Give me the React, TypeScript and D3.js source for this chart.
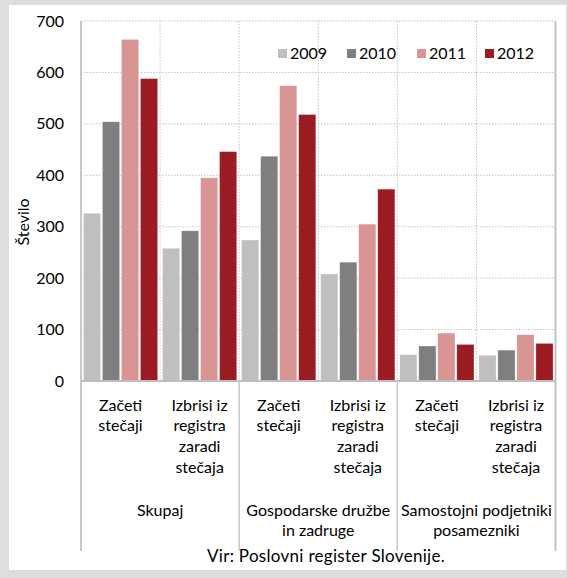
import React from 'react';
import * as d3 from 'd3';

// podatki
const years = ['2009', '2010', '2011', '2012'];
const subLabels = [
  ['Začeti', 'stečaji'],
  ['Izbrisi iz', 'registra', 'zaradi', 'stečaja'],
  ['Začeti', 'stečaji'],
  ['Izbrisi iz', 'registra', 'zaradi', 'stečaja'],
  ['Začeti', 'stečaji'],
  ['Izbrisi iz', 'registra', 'zaradi', 'stečaja'],
];
const groupLabels = [['Skupaj'], ['Gospodarske družbe', 'in zadruge'], ['Samostojni podjetniki', 'posamezniki']];
const v2009 = [326, 258, 274, 208, 51, 50];
const v2010 = [504, 292, 437, 231, 68, 60];
const v2011 = [664, 395, 574, 305, 93, 90];
const v2012 = [588, 446, 518, 373, 71, 73];
const yTicks = [0, 100, 200, 300, 400, 500, 600, 700];
const colors = ['#bfbfbf', '#7f7f7f', '#d99594', '#9b1b22'];

const series = [v2009, v2010, v2011, v2012];
const FONT = 'Lato, "Open Sans", sans-serif';

export default function App() {
  const W = 567, H = 578;
  const left = 81, right = 555.5, top = 21, bottom = 381;

  const x = d3.scaleBand<number>().domain(d3.range(6)).range([left, right]);
  const xi = d3.scaleBand<string>().domain(years).range([0, x.bandwidth()])
    .paddingInner(0.1).paddingOuter(0.13);
  const y = d3.scaleLinear().domain([0, 700]).range([bottom, top]);

  const gx = d3.scaleBand<number>().domain(d3.range(3)).range([left, right]);

  // legenda
  const legendX = [278, 347, 417, 485];

  return (
    <svg width={W} height={H} style={{ position: 'absolute', left: 0, top: 0 }}
      fontFamily={FONT}>
      <rect x={0} y={0} width={W} height={H} fill="#dcdddf" />
      <rect x={9} y={5} width={557} height={565} fill="#fff" />

      {/* mreža */}
      {yTicks.filter((t) => t > 0).map((t) => (
        <line key={t} x1={left} x2={right} y1={y(t)} y2={y(t)}
          stroke="#c4c4c4" strokeWidth={1} strokeDasharray="1.5,1.5" />
      ))}
      {d3.range(1, 6).map((i) => (
        <line key={i} x1={x(i)} x2={x(i)} y1={top} y2={bottom}
          stroke="#c4c4c4" strokeWidth={1} strokeDasharray="1.5,1.5" />
      ))}

      {/* stolpci */}
      {series.map((vals, s) => vals.map((v, i) => (
        <rect key={`${s}-${i}`} x={x(i)! + xi(years[s])!} y={y(v)}
          width={xi.bandwidth()} height={bottom - y(v)}
          fill={colors[s]} stroke="#fff" strokeOpacity={0.35} strokeWidth={0.6} />
      )))}

      {/* robovi */}
      <line x1={right} x2={right} y1={top} y2={551} stroke="#bdbdbd" strokeWidth={1.8} />
      <line x1={left} x2={left} y1={top} y2={551} stroke="#c8c8c8" strokeWidth={2} />
      <line x1={left} x2={right} y1={bottom} y2={bottom} stroke="#bdbdbd" strokeWidth={1.8} />
      {d3.range(1, 3).map((g) => (
        <line key={g} x1={gx(g)} x2={gx(g)} y1={bottom} y2={551} stroke="#c8c8c8" strokeWidth={1.5} />
      ))}

      {/* y os */}
      {yTicks.map((t) => (
        <text key={t} x={64} y={y(t) + 5.5} textAnchor="end" fontSize={16} fill="#000">{t}</text>
      ))}
      <text transform="translate(29,222) rotate(-90)" textAnchor="middle" fontSize={16} fill="#000">Število</text>

      {/* oznake kategorij */}
      {subLabels.map((lines, i) => (
        <text key={i} textAnchor="middle" fontSize={16} fill="#000">
          {lines.map((l, k) => (
            <tspan key={k} x={x(i)! + x.bandwidth() / 2} y={410.5 + k * 20.7}>{l}</tspan>
          ))}
        </text>
      ))}
      {groupLabels.map((lines, g) => (
        <text key={g} textAnchor="middle" fontSize={16} fill="#000">
          {lines.map((l, k) => (
            <tspan key={k} x={gx(g)! + gx.bandwidth() / 2} y={515.5 + k * 20.7}>{l}</tspan>
          ))}
        </text>
      ))}

      {/* legenda */}
      {years.map((yr, s) => (
        <g key={yr}>
          <rect x={legendX[s]} y={49} width={9} height={9} fill={colors[s]} />
          <text x={legendX[s] + 12} y={59} fontSize={16} fill="#000">{yr}</text>
        </g>
      ))}

      <text x={326} y={562} textAnchor="middle" fontSize={17} letterSpacing={0.3} fill="#000">Vir: Poslovni register Slovenije.</text>
    </svg>
  );
}
